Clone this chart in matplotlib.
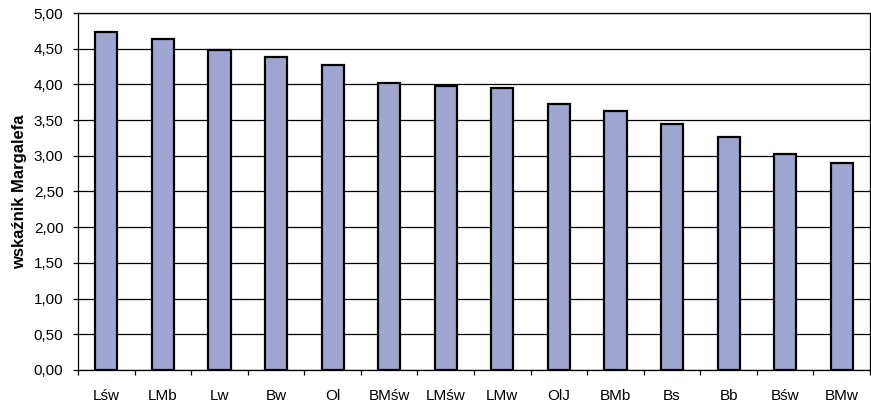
import numpy as np
import matplotlib.pyplot as plt
from matplotlib.ticker import FuncFormatter, MultipleLocator

plt.rcParams['font.family'] = ['Liberation Sans', 'DejaVu Sans']

# wskaźnik Margalefa dla stanowisk
stanowiska = ['Lśw', 'LMb', 'Lw', 'Bw', 'Ol', 'BMśw', 'LMśw', 'LMw', 'OlJ',
              'BMb', 'Bs', 'Bb', 'Bśw', 'BMw']
margalef = [4.73, 4.64, 4.48, 4.39, 4.27, 4.02, 3.98, 3.95, 3.73,
            3.63, 3.44, 3.27, 3.02, 2.90]

fig = plt.figure(figsize=(8.71, 4.04), dpi=100)
ax = fig.add_axes([0.0896, 0.0842, 0.9093, 0.8836])

x = np.arange(len(stanowiska))
ax.bar(x, margalef, width=0.39, color='#A0A6D2', edgecolor='black',
       linewidth=1.6, zorder=3)

ax.set_xlim(-0.5, len(stanowiska) - 0.5)
ax.set_ylim(0, 5)
ax.yaxis.set_major_locator(MultipleLocator(0.5))
ax.yaxis.set_major_formatter(FuncFormatter(lambda v, p: f'{v:.2f}'.replace('.', ',')))
ax.yaxis.grid(True, color='black', linewidth=0.9, zorder=0)

# podpisy kategorii pod słupkami, kreski na granicach kategorii
ax.set_xticks(x)
ax.set_xticklabels(stanowiska, fontsize=11)
ax.set_xticks(np.arange(-0.5, len(stanowiska)), minor=True)
ax.tick_params(axis='x', which='major', length=0, pad=14)
ax.tick_params(axis='x', which='minor', length=3.5, width=0.9, direction='out')
ax.tick_params(axis='y', labelsize=11, length=3.5, width=0.9, pad=7)

for s in ax.spines.values():
    s.set_linewidth(0.9)
    s.set_color('black')

ax.set_ylabel('wskaźnik Margalefa', fontsize=12, fontweight='bold', labelpad=5)

fig.savefig('out.png', dpi=100)
